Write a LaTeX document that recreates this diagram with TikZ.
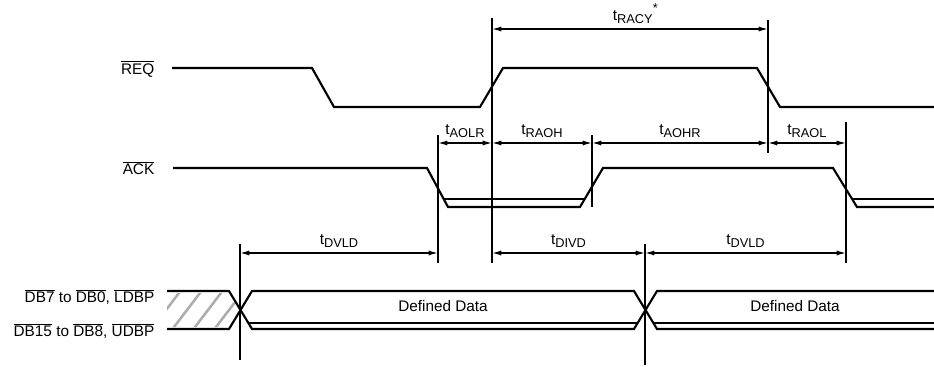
\documentclass[tikz,border=0pt]{standalone}
\usepackage{fontspec}
\setmainfont{Liberation Sans}
\usepackage{tikz}
\usetikzlibrary{arrows.meta}

\newcommand{\tm}[1]{t\raisebox{-0.45ex}{\fontsize{9.6}{10}\selectfont #1}}
\newcommand{\ovl}[1]{$\overline{\mbox{#1}}$}

\begin{document}
\begin{tikzpicture}[x=0.75pt, y=-0.75pt, font=\fontsize{11.5}{14}\selectfont,
    signal/.style={line width=1.6pt, line join=miter},
    markline/.style={line width=1.4pt},
    dim/.style={line width=1pt, {Latex[length=7pt,width=3.8pt]}-{Latex[length=7pt,width=3.8pt]}}]
    \useasboundingbox (0,0) rectangle (934,367);

    \node (req) [anchor=east] at (159,69) {\ovl{REQ}};
    \node (ack) [anchor=east] at (159,168) {\ovl{ACK}};
    \node (dblo) [anchor=east] at (159,297) {\ovl{DB7} to \ovl{DB0}, \ovl{LDBP}};
    \node (dbhi) [anchor=east] at (159,331) {\ovl{DB15} to \ovl{DB8}, \ovl{UDBP}};

    \draw [signal] (172,68) -- (312,68) -- (334,107) -- (480,107) -- (503,68) -- (757,68) -- (780,107) -- (934,107);
    \draw [signal] (173,168) -- (427,168) -- (448,207) -- (580,207) -- (603,168) -- (833,168) -- (857,207) -- (934,207);
    \draw [signal] (443.5,199) -- (585,199);
    \draw [signal] (852,199) -- (934,199);

    \begin{scope}
        \clip (167,293) -- (229,293) -- (239,310) -- (229,327) -- (167,327) -- cycle;
        \foreach \h in {150,171,192,213,234}
            \draw [gray!65, line width=1.9pt] (\h,331) -- ++(32,-42);
    \end{scope}
    \draw [signal] (167,291) -- (229,291) -- (252,329) -- (634,329) -- (657,291) -- (934,291);
    \draw [signal] (167,329) -- (229,329) -- (252,291) -- (634,291) -- (657,329) -- (934,329);
    \draw [signal] (248.5,323) -- (637.5,323);
    \draw [signal] (653.5,323) -- (934,323);
    \node (data1) at (443,306) {Defined Data};
    \node (data2) at (795,306) {Defined Data};

    \foreach \x/\ya/\yb in {240/244/360, 438/135/263, 492/18/263, 592/135/207,
                            768/20/153, 846/122/263, 645/244/365}
        \draw [markline] (\x,\ya) -- (\x,\yb);

    \coordinate (cyl) at (492,29);
    \coordinate (cyr) at (768,29);
    \coordinate (h1) at (438,143);
    \coordinate (h2) at (492,143);
    \coordinate (h3) at (592,143);
    \coordinate (h4) at (768,143);
    \coordinate (h5) at (846,143);
    \coordinate (d1) at (240,253);
    \coordinate (d2) at (438,253);
    \coordinate (d3) at (492,253);
    \coordinate (d4) at (645,253);
    \coordinate (d5) at (846,253);

    \draw [dim] (cyl) -- node[above, xshift=4pt] {\tm{RACY}\raisebox{0.9ex}{\fontsize{9.6}{10}\selectfont *}} (cyr);
    \draw [dim] (h1) -- node[above] {\tm{AOLR}} (h2);
    \draw [dim] (h2) -- node[above] {\tm{RAOH}} (h3);
    \draw [dim] (h3) -- node[above] {\tm{AOHR}} (h4);
    \draw [dim] (h4) -- node[above] {\tm{RAOL}} (h5);
    \draw [dim] (d1) -- node[above] {\tm{DVLD}} (d2);
    \draw [dim] (d3) -- node[above] {\tm{DIVD}} (d4);
    \draw [dim] (d4) -- node[above] {\tm{DVLD}} (d5);
\end{tikzpicture}
\end{document}
